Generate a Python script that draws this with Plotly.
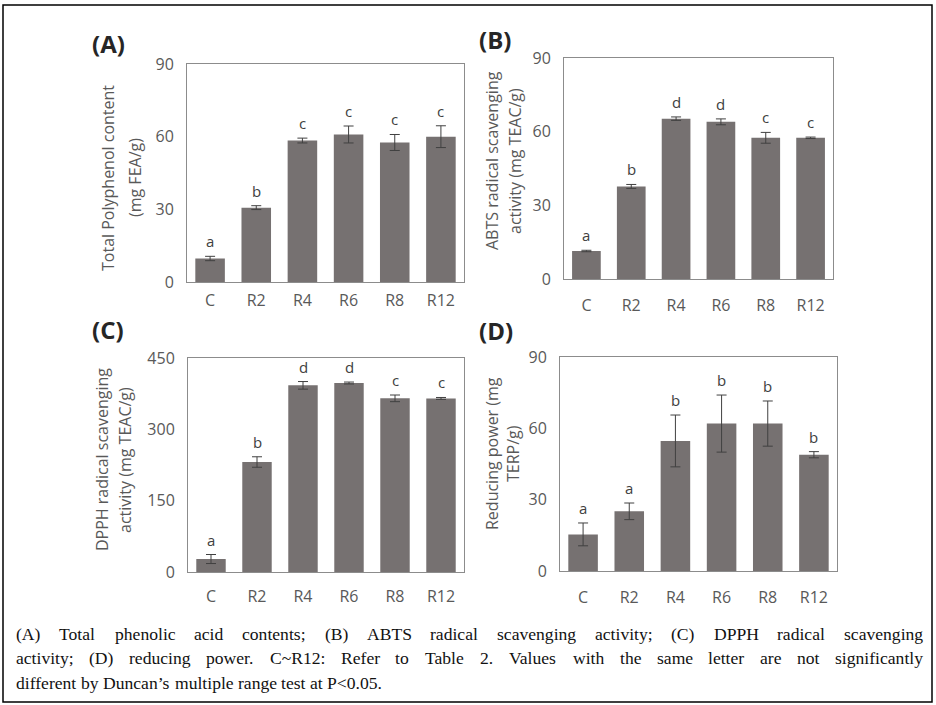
import plotly.graph_objects as go

W, H = 936, 705

categories = ["C", "R2", "R4", "R6", "R8", "R12"]

tpc_values = [9.7, 30.7, 58.4, 60.9, 57.6, 60.0]
tpc_errors = [0.9, 0.8, 1.0, 3.5, 3.3, 4.5]
tpc_letters = ["a", "b", "c", "c", "c", "c"]

abts_values = [11.4, 37.7, 65.3, 64.0, 57.5, 57.5]
abts_errors = [0.3, 0.8, 0.7, 1.2, 2.2, 0.3]
abts_letters = ["a", "b", "d", "d", "c", "c"]

dpph_values = [27.3, 231.3, 392.5, 397.4, 365.2, 365.0]
dpph_errors = [9.5, 11.0, 8.0, 2.0, 7.0, 2.0]
dpph_letters = ["a", "b", "d", "d", "c", "c"]

rp_values = [15.4, 25.1, 54.7, 62.0, 62.0, 48.9]
rp_errors = [4.8, 3.5, 10.9, 12.0, 9.5, 1.3]
rp_letters = ["a", "a", "b", "b", "b", "b"]

panel_labels = ["(A)", "(B)", "(C)", "(D)"]
y_titles = [
    ["Total Polyphenol content", "(mg FEA/g)"],
    ["ABTS radical scavenging", "activity (mg TEAC/g)"],
    ["DPPH radical scavenging", "activity (mg TEAC/g)"],
    ["Reducing power (mg", "TERP/g)"],
]
y_ranges = [(0, 90, 30), (0, 90, 30), (0, 450, 150), (0, 90, 30)]

caption_lines = [
    "(A) Total phenolic acid contents; (B) ABTS radical scavenging activity; (C) DPPH radical scavenging",
    "activity; (D) reducing power. C~R12: Refer to Table 2. Values with the same letter are not significantly",
    "different by Duncan\u2019s multiple range test at P<0.05.",
]

# ---------------- layout geometry (pixels) ----------------
panels = [
    dict(x0=187, x1=464, y0=64, y1=282, lab=(108, 44), tit=(108, 135), tity=178, xstand=4),
    dict(x0=564, x1=833, y0=58, y1=279, lab=(495, 40), tit=(492, 515), tity=161, xstand=12),
    dict(x0=188, x1=464, y0=358, y1=572, lab=(108, 329), tit=(102, 125), tity=460, xstand=10),
    dict(x0=560, x1=837, y0=357, y1=571, lab=(496, 330), tit=(492, 513), tity=454, xstand=12),
]
data_sets = [
    (tpc_values, tpc_errors, tpc_letters),
    (abts_values, abts_errors, abts_letters),
    (dpph_values, dpph_errors, dpph_letters),
    (rp_values, rp_errors, rp_letters),
]

def px(x):
    return x / W

def py(y):
    return 1 - y / H

BAR = "#767171"
AXIS = "#8c8c8c"
TICK = "#595959"
FONT = "Open Sans"

fig = go.Figure()
layout = dict(
    width=W, height=H, margin=dict(l=0, r=0, t=0, b=0, pad=0, autoexpand=False),
    paper_bgcolor="white", plot_bgcolor="white", showlegend=False,
    bargap=0.36, font=dict(family=FONT, color=TICK),
)
annotations = []

for i, (p, (vals, errs, lets)) in enumerate(zip(panels, data_sets)):
    n = i + 1
    xa = "x" if n == 1 else f"x{n}"
    ya = "y" if n == 1 else f"y{n}"
    fig.add_trace(go.Bar(
        x=categories, y=vals, xaxis=xa, yaxis=ya,
        marker=dict(color=BAR, line=dict(width=0)),
        error_y=dict(type="data", array=errs, visible=True,
                     color="#404040", thickness=1, width=5),
    ))
    lo, hi, dt = y_ranges[i]
    layout["xaxis" if n == 1 else f"xaxis{n}"] = dict(
        domain=[px(p["x0"]), px(p["x1"])], anchor=ya,
        showline=True, linecolor=AXIS, linewidth=1, mirror=True,
        ticks="", showgrid=False, zeroline=False, automargin=False,
        tickfont=dict(size=16, color=TICK, family=FONT),
        ticklabelstandoff=p["xstand"],
    )
    layout["yaxis" if n == 1 else f"yaxis{n}"] = dict(
        domain=[py(p["y1"]), py(p["y0"])], anchor=xa,
        range=[lo, hi], tick0=0, dtick=dt,
        showline=True, linecolor=AXIS, linewidth=1, mirror=True,
        ticks="", showgrid=False, zeroline=False, automargin=False,
        tickfont=dict(size=16, color=TICK, family=FONT),
        ticklabelstandoff=9,
    )
    for c, v, e, l in zip(categories, vals, errs, lets):
        annotations.append(dict(
            x=c, y=v + e, xref=xa, yref=ya, text=l, showarrow=False,
            yanchor="bottom", yshift=3,
            font=dict(size=15, color="#404040", family=FONT),
        ))
    annotations.append(dict(
        x=px(p["lab"][0]), y=py(p["lab"][1]), xref="paper", yref="paper",
        text=f"<b>{panel_labels[i]}</b>", showarrow=False,
        xanchor="center", yanchor="middle",
        font=dict(size=24, color="#262626", family=FONT),
    ))
    for k, line in enumerate(y_titles[i]):
        annotations.append(dict(
            x=px(p["tit"][k]), y=py(p["tity"]), xref="paper", yref="paper",
            text=line, showarrow=False, textangle=-90,
            xanchor="center", yanchor="middle",
            font=dict(size=16, color=TICK, family=FONT),
        ))

# ---------------- caption (justified) ----------------
TW = {
    " ": 250, "(": 333, ")": 333, "A": 722, "B": 667, "C": 667, "D": 722,
    "P": 556, "R": 667, "T": 611, "V": 722, "H": 722, "S": 556, "E": 611,
    "a": 444, "b": 500, "c": 444, "d": 500, "e": 444, "f": 333, "g": 500,
    "h": 500, "i": 278, "j": 278, "k": 500, "l": 278, "m": 778, "n": 500,
    "o": 500, "p": 500, "q": 500, "r": 333, "s": 389, "t": 278, "u": 500,
    "v": 500, "w": 722, "x": 500, "y": 500, "z": 444, ";": 278, ":": 278,
    ".": 250, ",": 250, "\u2019": 333, "~": 541, "<": 564,
}
for d in "0123456789":
    TW[d] = 500

CFS = 17.6
CL, CR = 15, 922
line_y = [634, 658, 683]

def wwidth(w):
    return sum(TW.get(ch, 500) for ch in w) * CFS / 1000

for li, line in enumerate(caption_lines):
    words = line.split(" ")
    justify = li < len(caption_lines) - 1
    widths = [wwidth(w) for w in words]
    if justify:
        gap = (CR - CL - sum(widths)) / (len(words) - 1)
    else:
        gap = TW[" "] * CFS / 1000
    x = CL
    for w, wd in zip(words, widths):
        annotations.append(dict(
            x=px(x), y=py(line_y[li]), xref="paper", yref="paper",
            text=w.replace("<", "&lt;"), showarrow=False,
            xanchor="left", yanchor="middle", borderpad=0,
            font=dict(size=CFS, color="#111111", family="Liberation Serif"),
        ))
        x += wd + gap

layout["annotations"] = annotations
layout["shapes"] = [
    dict(type="rect", xref="paper", yref="paper",
         x0=px(3), x1=px(932), y0=py(702), y1=py(5),
         line=dict(color="black", width=1.5), fillcolor="rgba(0,0,0,0)"),
]

fig.update_layout(**layout)
fig.write_html(
    "out.html",
    config={"displayModeBar": False},
    post_script=(
        "document.documentElement.style.margin='0';"
        "document.body.style.margin='0';document.body.style.padding='0';"
        "document.body.style.overflow='hidden';"
        "var d=document.getElementById('{plot_id}');"
        "d.style.position='fixed';d.style.top='0px';d.style.left='0px';"
    ),
)
